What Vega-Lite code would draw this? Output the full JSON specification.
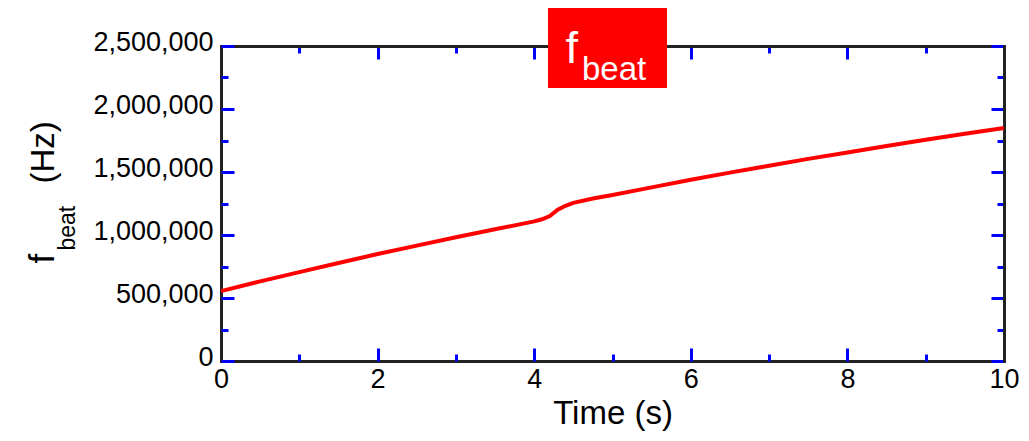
{
  "$schema": "https://vega.github.io/schema/vega-lite/v6.json",
  "width": 783,
  "height": 315,
  "autosize": "none",
  "padding": {"left": 221, "top": 46, "right": 25, "bottom": 80},
  "background": "white",
  "config": {"view": {"stroke": null}, "font": "Liberation Sans"},
  "datasets": {
    "beat": [
      {"t": 0, "f": 555000}, {"t": 0.5, "f": 632000}, {"t": 1, "f": 705000}, {"t": 1.5, "f": 778000},
      {"t": 2, "f": 849000}, {"t": 2.5, "f": 916000}, {"t": 3, "f": 982000}, {"t": 3.5, "f": 1045000},
      {"t": 4, "f": 1108000}, {"t": 4.1, "f": 1125000}, {"t": 4.2, "f": 1150000}, {"t": 4.3, "f": 1200000},
      {"t": 4.4, "f": 1232000}, {"t": 4.5, "f": 1255000}, {"t": 4.75, "f": 1290000}, {"t": 5, "f": 1318000},
      {"t": 5.5, "f": 1378000}, {"t": 6, "f": 1438000}, {"t": 6.5, "f": 1495000}, {"t": 7, "f": 1550000},
      {"t": 7.5, "f": 1604000}, {"t": 8, "f": 1655000}, {"t": 8.5, "f": 1706000}, {"t": 9, "f": 1756000},
      {"t": 9.5, "f": 1803000}, {"t": 10, "f": 1849000}
    ],
    "label": [{"main": "f", "sub": "beat"}]
  },
  "layer": [
    {
      "data": {"name": "beat"},
      "mark": {"type": "line", "color": "#ff0000", "strokeWidth": 4},
      "encoding": {
        "x": {"field": "t", "type": "quantitative", "scale": {"domain": [0, 10], "nice": false},
          "axis": {"orient": "bottom", "values": [0, 2, 4, 6, 8, 10], "ticks": false, "grid": false,
            "domain": true, "domainColor": "#222", "domainWidth": 3, "domainCap": "square",
            "labelFontSize": 27, "labelPadding": 5, "labelColor": "#000", "labelFlush": false,
            "title": "Time (s)", "titleFontSize": 33, "titleFontWeight": "normal", "titleColor": "#000",
            "titleBaseline": "alphabetic", "titleY": 62, "zindex": 0}},
        "y": {"field": "f", "type": "quantitative", "scale": {"domain": [0, 2500000], "nice": false},
          "axis": {"orient": "left", "values": [0, 500000, 1000000, 1500000, 2000000, 2500000], "format": ",.0f",
            "ticks": false, "grid": false,
            "domain": true, "domainColor": "#222", "domainWidth": 3, "domainCap": "square",
            "labelFontSize": 27, "labelPadding": 8, "labelColor": "#000", "labelOffset": -4, "labelFlush": false,
            "title": "f", "titleFontSize": 35, "titleFontWeight": "normal", "titleColor": "#000",
            "titleAngle": 270, "titleAlign": "left", "titleBaseline": "alphabetic", "titleX": -168, "titleY": 217, "zindex": 0}}
      }
    },
    {
      "data": {"name": "label"},
      "mark": {"type": "rect", "color": "#ff0000"},
      "encoding": {
        "x": {"datum": 4.176, "type": "quantitative", "scale": {"domain": [0, 10], "nice": false},
          "axis": {"orient": "bottom", "values": [0, 1, 2, 3, 4, 5, 6, 7, 8, 9, 10], "labels": false, "domain": false, "grid": false,
            "ticks": true, "tickColor": "#0000ff", "tickWidth": 3,
            "tickSize": {"condition": {"test": "datum.value % 2 === 0", "value": -13}, "value": -7},
            "title": null, "zindex": 0}},
        "x2": {"datum": 5.696},
        "y": {"datum": 2801600, "type": "quantitative", "scale": {"domain": [0, 2500000], "nice": false},
          "axis": {"orient": "left", "values": [0, 250000, 500000, 750000, 1000000, 1250000, 1500000, 1750000, 2000000, 2250000, 2500000],
            "labels": false, "domain": false, "grid": false,
            "ticks": true, "tickColor": "#0000ff", "tickWidth": 3,
            "tickSize": {"condition": {"test": "datum.value % 500000 === 0", "value": -13}, "value": -7},
            "title": "beat", "titleFontSize": 23, "titleFontWeight": "normal", "titleColor": "#000",
            "titleAngle": 270, "titleAlign": "left", "titleBaseline": "alphabetic", "titleX": -147, "titleY": 204, "zindex": 0}},
        "y2": {"datum": 2166700}
      }
    },
    {
      "data": {"name": "label"},
      "mark": {"type": "text", "color": "#ffffff", "fontSize": 45, "align": "left", "baseline": "alphabetic", "font": "Liberation Sans"},
      "encoding": {
        "x": {"datum": 4.4, "type": "quantitative", "scale": {"domain": [0, 10], "nice": false},
          "axis": {"orient": "top", "values": [0, 1, 2, 3, 4, 5, 6, 7, 8, 9, 10], "labels": false, "grid": false,
            "domain": true, "domainColor": "#222", "domainWidth": 3, "domainCap": "square",
            "ticks": true, "tickColor": "#0000ff", "tickWidth": 3,
            "tickSize": {"condition": {"test": "datum.value % 2 === 0", "value": -13}, "value": -7},
            "title": null, "zindex": 0}},
        "y": {"datum": 2365000, "type": "quantitative", "scale": {"domain": [0, 2500000], "nice": false},
          "axis": {"orient": "right", "values": [0, 250000, 500000, 750000, 1000000, 1250000, 1500000, 1750000, 2000000, 2250000, 2500000],
            "labels": false, "grid": false,
            "domain": true, "domainColor": "#222", "domainWidth": 3, "domainCap": "square",
            "ticks": true, "tickColor": "#0000ff", "tickWidth": 3,
            "tickSize": {"condition": {"test": "datum.value % 500000 === 0", "value": -13}, "value": -7},
            "title": null, "zindex": 0}},
        "text": {"field": "main"}
      }
    },
    {
      "data": {"name": "label"},
      "mark": {"type": "text", "color": "#ffffff", "fontSize": 33, "align": "left", "baseline": "alphabetic", "font": "Liberation Sans"},
      "encoding": {
        "x": {"datum": 4.61, "type": "quantitative", "scale": {"domain": [0, 10], "nice": false}, "axis": null},
        "y": {"datum": 2230000, "type": "quantitative", "scale": {"domain": [0, 2500000], "nice": false},
          "axis": {"orient": "left", "labels": false, "ticks": false, "domain": false, "grid": false,
            "title": "(Hz)", "titleFontSize": 33, "titleFontWeight": "normal", "titleColor": "#000",
            "titleAngle": 270, "titleAlign": "left", "titleBaseline": "alphabetic", "titleX": -168, "titleY": 137, "zindex": 0}},
        "text": {"field": "sub"}
      }
    }
  ],
  "resolve": {"axis": {"x": "independent", "y": "independent"}}
}
